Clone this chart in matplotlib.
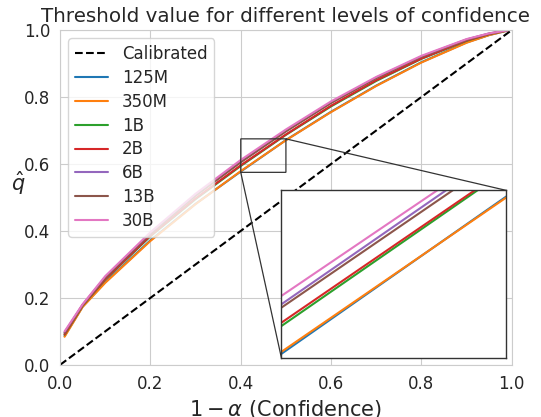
import numpy as np
import matplotlib
matplotlib.use("Agg")
import matplotlib.pyplot as plt
import seaborn as sns

sns.set_style("whitegrid")

# confidence levels (1 - alpha)
conf = [0.01, 0.05, 0.1, 0.2, 0.3, 0.4, 0.5, 0.6, 0.7, 0.8, 0.9, 0.95, 0.99]

models = ["125M", "350M", "1B", "2B", "6B", "13B", "30B"]
qhat_125m = [0.086, 0.174, 0.247, 0.372, 0.481, 0.5774, 0.6714, 0.756, 0.834, 0.904, 0.963, 0.985, 0.998]
qhat_350m = [0.084, 0.173, 0.245, 0.370, 0.480, 0.5786, 0.6708, 0.755, 0.833, 0.903, 0.962, 0.985, 0.998]
qhat_1b = [0.090, 0.177, 0.255, 0.384, 0.495, 0.594, 0.687, 0.772, 0.848, 0.914, 0.968, 0.988, 0.999]
qhat_2b = [0.091, 0.178, 0.256, 0.386, 0.497, 0.596, 0.688, 0.774, 0.850, 0.915, 0.969, 0.988, 0.999]
qhat_6b = [0.097, 0.180, 0.262, 0.393, 0.507, 0.607, 0.700, 0.784, 0.858, 0.921, 0.972, 0.990, 0.999]
qhat_13b = [0.095, 0.179, 0.260, 0.391, 0.505, 0.605, 0.697, 0.782, 0.856, 0.920, 0.971, 0.989, 0.999]
qhat_30b = [0.100, 0.181, 0.265, 0.396, 0.511, 0.612, 0.703, 0.787, 0.860, 0.923, 0.973, 0.990, 0.999]
all_qhat = [qhat_125m, qhat_350m, qhat_1b, qhat_2b, qhat_6b, qhat_13b, qhat_30b]

fig = plt.figure(figsize=(5.41, 4.17), dpi=100)
ax = fig.add_axes([0.111, 0.125, 0.835, 0.803])

ax.plot([0, 1], [0, 1], "k--", label="Calibrated")
for name, q in zip(models, all_qhat):
    ax.plot(conf, q, label=name, linewidth=1.5)

ax.set_xlim(0, 1)
ax.set_ylim(0, 1)
ax.set_xlabel(r"$1 - \alpha$ (Confidence)", fontsize=15)
ax.set_ylabel(r"$\hat{q}$", fontsize=15, rotation=0)
ax.set_title("Threshold value for different levels of confidence", fontsize=14.3)
ax.tick_params(axis="both", labelsize=12)
ax.legend(loc="upper left", fontsize=12, labelspacing=0.35)

## zoomed inset
axins = ax.inset_axes([0.49, 0.021, 0.498, 0.50])
for name, q in zip(models, all_qhat):
    axins.plot(conf, q, linewidth=1.5)
axins.set_xlim(0.4, 0.5)
axins.set_ylim(0.575, 0.675)
axins.set_xticks([])
axins.set_yticks([])
axins.grid(False)
axins.set_facecolor("white")
for s in axins.spines.values():
    s.set_edgecolor("#333333")
    s.set_linewidth(1.0)
ax.indicate_inset_zoom(axins, edgecolor="#333333", alpha=1.0, linewidth=0.9)

fig.savefig("out.png", dpi=100)
